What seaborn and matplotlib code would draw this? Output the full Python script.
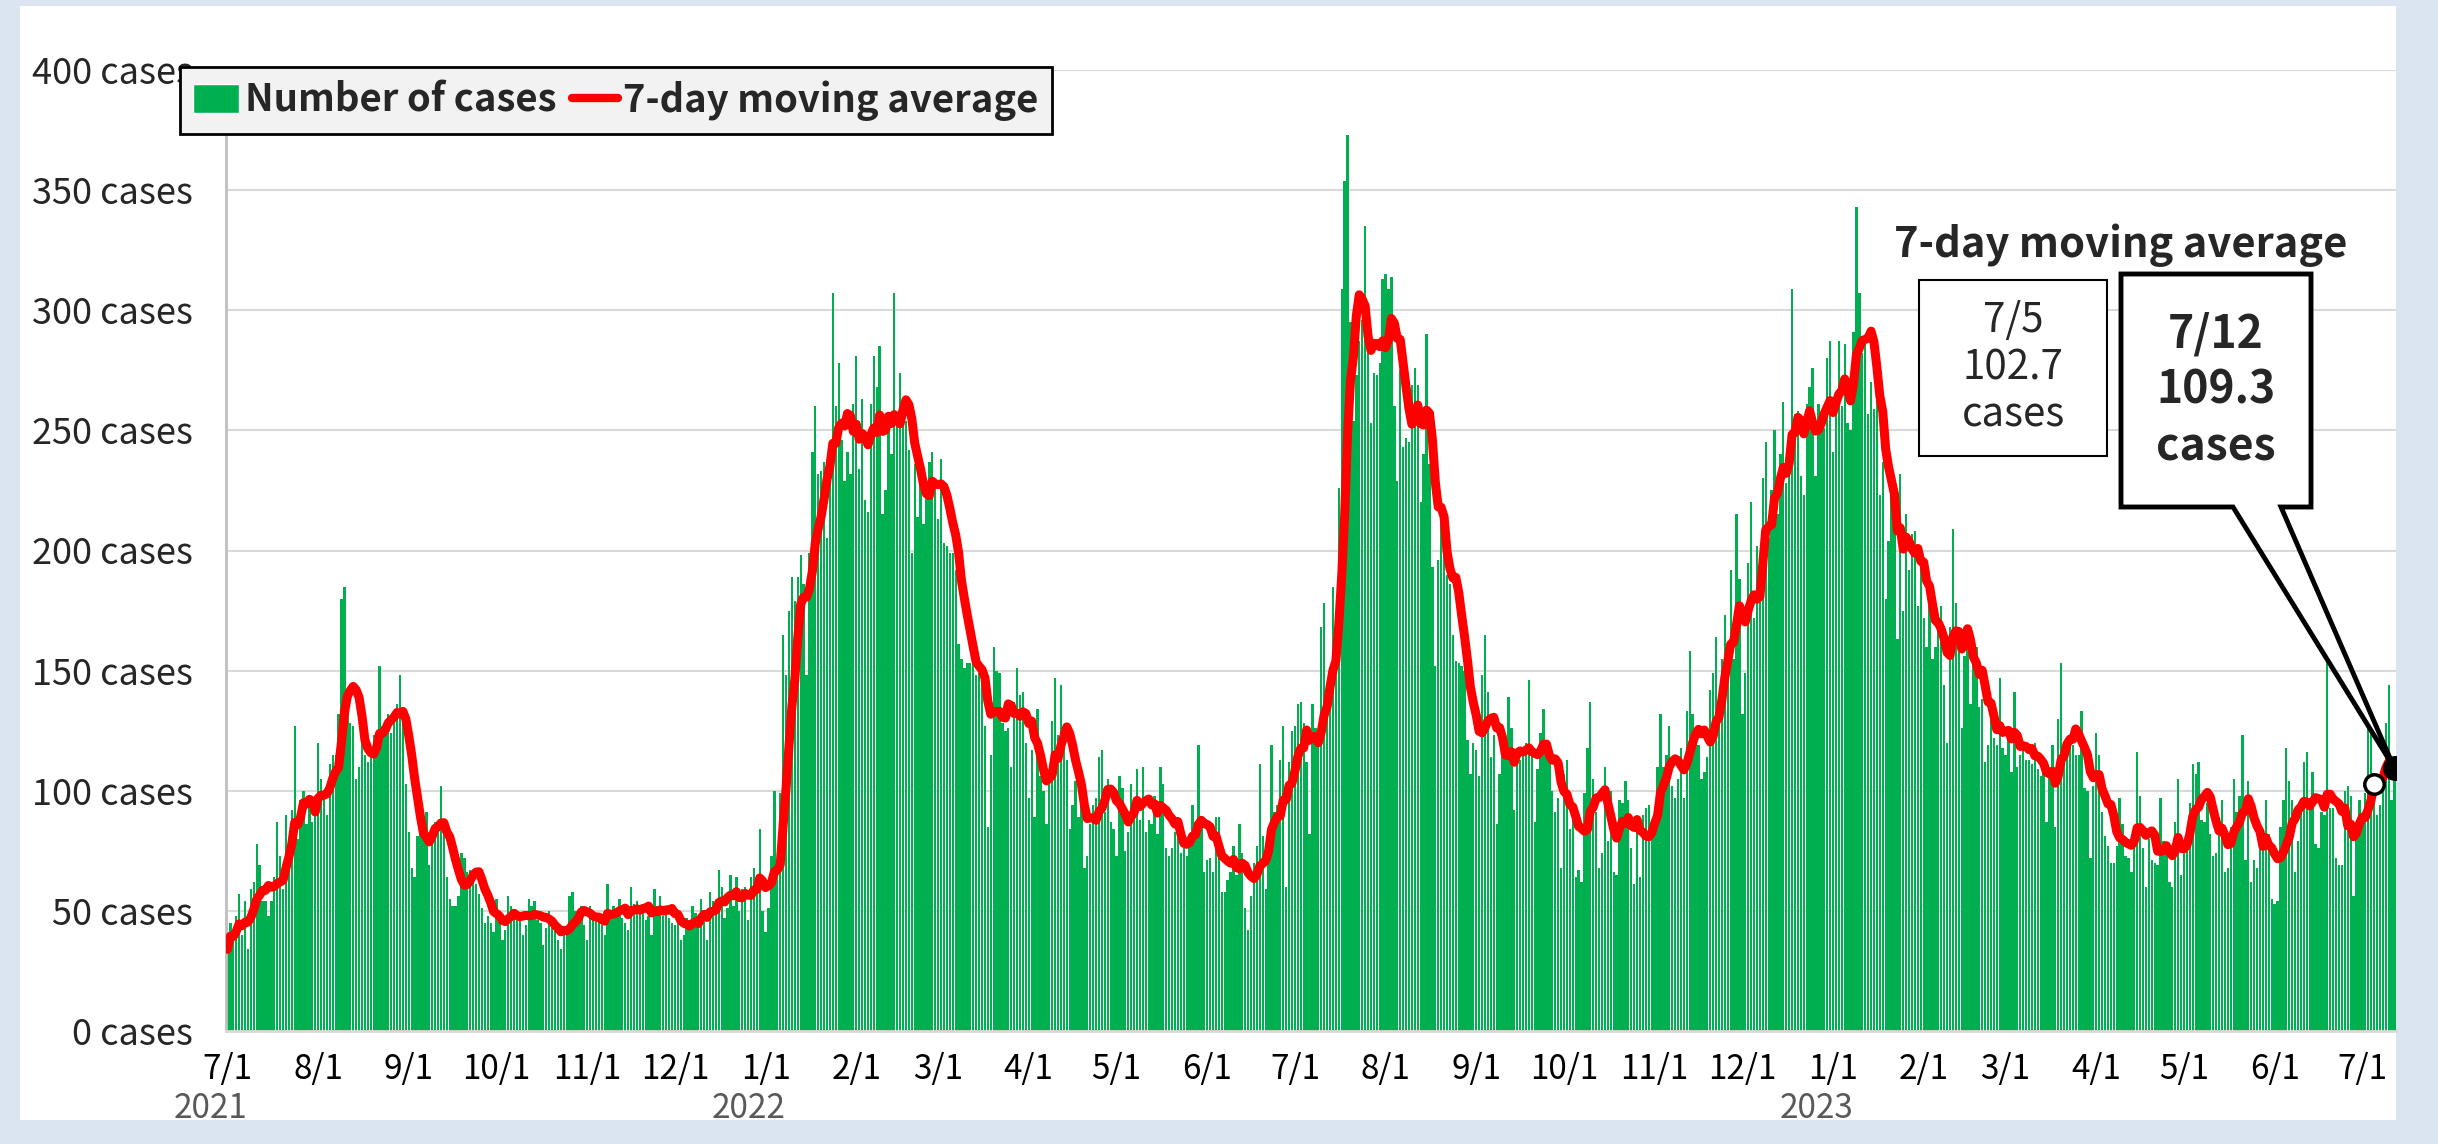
import numpy as np
import pandas as pd
import matplotlib
matplotlib.use("Agg")
import matplotlib.pyplot as plt
import seaborn as sns
from matplotlib.patches import Rectangle, Polygon
from matplotlib.lines import Line2D

# daily number of cases, one list per month
jul21 = [34, 45, 39, 48, 57, 40, 54, 34, 59, 62, 78, 69, 54, 54, 48, 54, 64, 87, 73, 59, 90, 80, 92, 127, 80, 96, 100, 86, 94, 87, 95]
aug21 = [120, 105, 100, 90, 111, 115, 115, 132, 180, 185, 137, 128, 127, 105, 110, 126, 115, 112, 116, 123, 123, 152, 127, 125, 132, 124, 132, 136, 148, 134, 103]
sep21 = [83, 68, 64, 81, 91, 87, 91, 69, 84, 87, 86, 102, 88, 64, 55, 52, 52, 56, 74, 72, 66, 67, 67, 61, 57, 51, 45, 48, 45, 41]
oct21 = [55, 50, 38, 42, 56, 52, 50, 48, 47, 40, 44, 55, 52, 54, 46, 45, 36, 43, 50, 46, 42, 38, 34, 40, 42, 56, 58, 50, 49, 52, 44]
nov21 = [38, 52, 50, 47, 49, 44, 40, 61, 48, 52, 50, 55, 47, 45, 42, 60, 53, 54, 51, 52, 46, 48, 40, 59, 52, 56, 48, 50, 47, 45]
dec21 = [44, 50, 38, 40, 47, 42, 52, 49, 45, 55, 50, 38, 58, 54, 52, 67, 60, 47, 51, 65, 52, 64, 50, 59, 60, 46, 64, 68, 65, 84, 50]
jan22 = [41, 51, 73, 100, 70, 99, 165, 148, 175, 189, 179, 189, 198, 186, 148, 199, 241, 260, 232, 233, 237, 205, 238, 307, 260, 278, 246, 229, 241, 232, 261]
feb22 = [281, 234, 263, 221, 216, 261, 281, 268, 285, 215, 225, 256, 240, 307, 252, 274, 256, 254, 242, 199, 236, 214, 236, 211, 227, 237, 241, 227]
mar22 = [213, 238, 203, 202, 199, 199, 192, 161, 155, 151, 153, 153, 154, 148, 149, 145, 127, 85, 115, 160, 150, 149, 128, 125, 126, 110, 137, 151, 140, 141, 120]
apr22 = [97, 117, 89, 134, 106, 100, 86, 103, 129, 147, 123, 144, 127, 113, 84, 94, 104, 89, 107, 68, 73, 86, 94, 97, 114, 117, 91, 105, 87, 84]
may22 = [73, 106, 101, 75, 83, 103, 95, 109, 88, 110, 83, 88, 86, 98, 82, 110, 103, 76, 73, 76, 83, 89, 74, 76, 73, 79, 94, 87, 119, 86, 66]
jun22 = [71, 72, 66, 89, 89, 58, 58, 63, 66, 77, 65, 86, 74, 51, 42, 56, 70, 77, 111, 81, 59, 70, 119, 91, 94, 113, 127, 60, 112, 125]
jul22 = [127, 136, 137, 128, 112, 82, 136, 126, 119, 168, 178, 136, 139, 185, 153, 226, 309, 354, 373, 295, 254, 273, 287, 296, 335, 285, 253, 274, 273, 278, 313]
aug22 = [315, 309, 314, 260, 229, 275, 243, 247, 245, 269, 276, 269, 220, 240, 290, 236, 193, 152, 196, 219, 212, 190, 186, 165, 154, 153, 152, 150, 121, 107, 120]
sep22 = [117, 106, 148, 165, 141, 114, 123, 86, 107, 118, 115, 139, 126, 92, 113, 113, 115, 120, 146, 115, 87, 109, 124, 134, 121, 114, 100, 91, 97, 68]
oct22 = [107, 113, 84, 93, 64, 67, 62, 99, 118, 137, 105, 91, 68, 74, 110, 79, 100, 66, 65, 96, 95, 104, 96, 76, 61, 88, 64, 90, 93, 94, 87]
nov22 = [89, 110, 132, 110, 115, 127, 102, 97, 105, 118, 97, 133, 158, 132, 122, 119, 105, 108, 114, 142, 149, 164, 133, 155, 173, 161, 192, 155, 215, 188]
dec22 = [132, 149, 195, 220, 172, 202, 196, 230, 245, 205, 225, 250, 215, 240, 262, 228, 234, 309, 257, 258, 231, 223, 261, 268, 276, 231, 261, 251, 251, 280, 287]
jan23 = [241, 259, 287, 260, 286, 253, 250, 291, 343, 307, 282, 289, 257, 270, 259, 270, 223, 237, 180, 204, 230, 220, 163, 232, 175, 215, 192, 207, 208, 177, 195]
feb23 = [172, 160, 177, 155, 160, 170, 177, 144, 120, 168, 209, 178, 168, 126, 156, 167, 136, 159, 160, 135, 138, 112, 119, 133, 122, 119, 147, 118]
mar23 = [115, 122, 108, 141, 110, 115, 120, 113, 113, 111, 120, 109, 106, 108, 87, 108, 119, 85, 130, 153, 120, 121, 122, 119, 115, 115, 133, 101, 100, 72, 102]
apr23 = [124, 115, 91, 81, 77, 70, 70, 77, 97, 86, 73, 72, 66, 82, 116, 98, 76, 60, 80, 71, 70, 69, 97, 79, 74, 62, 60, 87, 105, 65]
may23 = [78, 84, 95, 111, 107, 112, 88, 87, 95, 82, 73, 74, 84, 96, 66, 68, 85, 105, 91, 98, 123, 71, 104, 62, 71, 68, 82, 80, 96, 82, 55]
jun23 = [53, 54, 85, 96, 118, 104, 96, 66, 79, 94, 112, 116, 93, 108, 78, 76, 91, 90, 154, 93, 93, 72, 69, 69, 100, 102, 98, 56, 83, 96]
jul23 = [88, 99, 126, 126, 101, 90, 94, 101, 128, 144, 96, 112]

months = [jul21, aug21, sep21, oct21, nov21, dec21,
          jan22, feb22, mar22, apr22, may22, jun22, jul22, aug22, sep22, oct22, nov22, dec22,
          jan23, feb23, mar23, apr23, may23, jun23, jul23]

start = pd.Timestamp("2021-07-01")
cases = sum(months, [])
dates = pd.date_range(start, periods=len(cases), freq="D")
df = pd.DataFrame({"day": np.arange(len(cases)), "date": dates, "cases": cases})
df["ma"] = df["cases"].rolling(7, min_periods=1).mean()

y_ticks = [0, 50, 100, 150, 200, 250, 300, 350, 400]
year_marks = ["2021-07-01", "2022-01-01", "2023-01-01"]
prev_day = "2023-07-05"

GREEN = "#00b050"
W, H = 2438, 1144

sns.set_style("white")
plt.rcParams["font.family"] = ["Noto Sans CJK JP", "DejaVu Sans"]
jp = ["Noto Sans CJK JP", "DejaVu Sans"]


def fxy(x, y):
    # pixel position (top-left origin) -> figure fraction
    return x / W, 1 - y / H


fig = plt.figure(figsize=(W / 100, H / 100), dpi=100, facecolor="#dbe5f1")
fig.patches.append(Rectangle(fxy(20, 1120), 2376 / W, 1114 / H, transform=fig.transFigure,
                             facecolor="white", edgecolor="none", zorder=-1))

ax = fig.add_axes([226 / W, 1 - 1031 / H, 2170 / W, 961 / H])
ax.set_facecolor("white")

sns.barplot(data=df, x="day", y="cases", native_scale=True, color=GREEN, saturation=1,
            width=0.8, errorbar=None, ax=ax, zorder=2, linewidth=0)
sns.lineplot(data=df, x="day", y="ma", color="red", linewidth=6.5, ax=ax, zorder=3,
             solid_joinstyle="round", solid_capstyle="round")

ax.set_xlim(-0.5, len(df) - 0.5)
ax.set_ylim(0, 400)
ax.set_xlabel("")
ax.set_ylabel("")

ax.set_yticks(y_ticks)
ax.set_yticklabels([f"{v} cases" for v in y_ticks], fontsize=26, color="#262626")
month_starts = pd.date_range(start, dates[-1], freq="MS")
ax.set_xticks([(d - start).days for d in month_starts])
ax.set_xticklabels([f"{d.month}/1" for d in month_starts], fontsize=24, color="black")
ax.tick_params(axis="y", length=0, pad=24)
ax.tick_params(axis="x", length=0, pad=15)

ax.yaxis.grid(True, color="#d9d9d9", linewidth=1.5)
ax.set_axisbelow(True)
for s in ["top", "right"]:
    ax.spines[s].set_visible(False)
ax.spines["left"].set_color("#bfbfbf")
ax.spines["left"].set_linewidth(2)
ax.spines["bottom"].set_color("#d9d9d9")
ax.spines["bottom"].set_linewidth(2)

for ym in year_marks:
    d = (pd.Timestamp(ym) - start).days
    ax.annotate(ym[:4], xy=(d, 0), xycoords=("data", "axes fraction"), xytext=(-12, -56),
                textcoords="offset points", ha="center", va="center", fontsize=24, color="#595959")

handles = [Rectangle((0, 0), 1, 1, facecolor=GREEN), Line2D([], [], color="red", lw=6)]
leg = ax.legend(handles, ["Number of cases", "7-day moving average"], loc="upper left",
                bbox_to_anchor=fxy(180, 67), bbox_transform=fig.transFigure, ncol=2,
                fancybox=False, facecolor="#f2f2f2", edgecolor="black", framealpha=1,
                prop=dict(weight="bold", size=27.5), handlelength=1.2, handleheight=0.8,
                handletextpad=0.15, columnspacing=0.4, borderpad=0.35, borderaxespad=0)
leg.get_frame().set_linewidth(2)
leg.set_zorder(10)

# markers on the moving average
i_prev = (pd.Timestamp(prev_day) - start).days
i_last = len(df) - 1
ma_prev = df["ma"].iloc[i_prev]
ma_last = df["ma"].iloc[i_last]
ax.plot(i_prev, ma_prev, "o", ms=14, mfc="white", mec="black", mew=2.5, zorder=6)
ax.plot(i_last, ma_last, "o", ms=17, mfc="black", mec="black", zorder=6)

# annotation texts and boxes
x, y = fxy(2121, 245)
fig.text(x, y, "7-day moving average", ha="center", va="center", fontsize=30,
         fontweight="bold", family=jp)

fig.patches.append(Rectangle(fxy(1919, 456), 188 / W, 176 / H, transform=fig.transFigure,
                             facecolor="white", edgecolor="black", lw=1.5, zorder=4))
x, y = fxy(2013, 368)
d_prev = df["date"].iloc[i_prev]
fig.text(x, y, f"{d_prev.month}/{d_prev.day}\n{ma_prev:.1f}\ncases", ha="center", va="center",
         fontsize=29, linespacing=1.2, family=jp, zorder=5)

fig.canvas.draw()
tip = fig.transFigure.inverted().transform(ax.transData.transform((i_last, ma_last)))
pts = [fxy(2121, 274), fxy(2311, 274), fxy(2311, 507), fxy(2281, 507), tuple(tip),
       fxy(2233, 507), fxy(2121, 507)]
fig.patches.append(Rectangle(fxy(2121, 507), 190 / W, 233 / H, transform=fig.transFigure,
                             facecolor="white", edgecolor="none", zorder=4))
fig.patches.append(Polygon(pts, closed=True, fill=False, edgecolor="black", lw=3.5,
                           joinstyle="miter", transform=fig.transFigure, zorder=5))
x, y = fxy(2216, 391)
d_last = df["date"].iloc[i_last]
fig.text(x, y, f"{d_last.month}/{d_last.day}\n{ma_last:.1f}\ncases", ha="center", va="center",
         fontsize=32, fontweight="bold", linespacing=1.3, family=jp, zorder=6)

fig.savefig("out.png", dpi=100, facecolor=fig.get_facecolor())
